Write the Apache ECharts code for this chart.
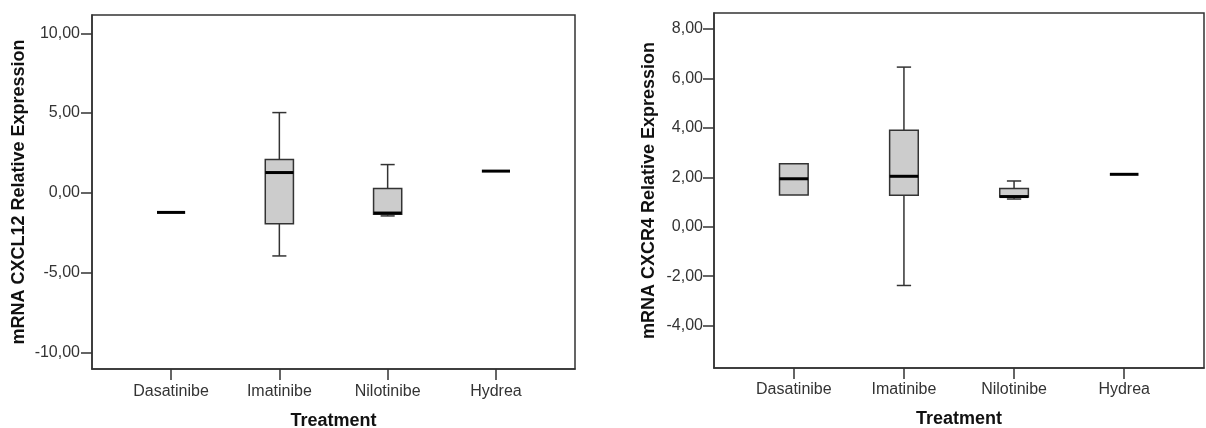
<!DOCTYPE html>
<html>
<head>
<meta charset="utf-8">
<script src="https://cdn.jsdelivr.net/npm/echarts@6/dist/echarts.min.js"></script>
<style>
  html, body { margin: 0; padding: 0; background: #fff; }
  #chart { width: 1206px; height: 428px; }
</style>
</head>
<body>
<div id="chart"></div>
<script>
const categories = ['Dasatinibe', 'Imatinibe', 'Nilotinibe', 'Hydrea']
// each row: [min, q1, median, q3, max]
const cxcl12 = [
  [-1.23, -1.23, -1.23, -1.23, -1.23],
  [-3.96, -1.94, 1.27, 2.09, 5.03],
  [-1.45, -1.35, -1.27, 0.27, 1.77],
  [1.36, 1.36, 1.36, 1.36, 1.36],
]
const cxcr4 = [
  [1.28, 1.28, 1.94, 2.55, 2.55],
  [-2.38, 1.27, 2.04, 3.9, 6.46],
  [1.12, 1.2, 1.22, 1.55, 1.85],
  [2.12, 2.12, 2.12, 2.12, 2.12],
]
const cxcl12Ticks = [-10, -5, 0, 5, 10]
const cxcr4Ticks = [-4, -2, 0, 2, 4, 6, 8]
const catTicks = [1, 2, 3, 4]

const FONT = 'Liberation Sans, Arial, sans-serif'
const LINE = '#333'
const BOX_W = 0.26

const renderBox = (params, api) => {
  const x = api.value(0)
  const lo = api.coord([x, api.value(1)])
  const q1 = api.coord([x, api.value(2)])
  const md = api.coord([x, api.value(3)])
  const q3 = api.coord([x, api.value(4)])
  const hi = api.coord([x, api.value(5)])
  const w = api.size([BOX_W, 0])[0]
  const cx = md[0]
  const stroke = { stroke: LINE, lineWidth: 1.5 }
  const children = []
  if (hi[1] < q3[1] - 0.5) {
    children.push({ type: 'line', shape: { x1: cx, y1: q3[1], x2: cx, y2: hi[1] }, style: stroke })
    children.push({ type: 'line', shape: { x1: cx - w / 4, y1: hi[1], x2: cx + w / 4, y2: hi[1] }, style: stroke })
  }
  if (lo[1] > q1[1] + 0.5) {
    children.push({ type: 'line', shape: { x1: cx, y1: q1[1], x2: cx, y2: lo[1] }, style: stroke })
    children.push({ type: 'line', shape: { x1: cx - w / 4, y1: lo[1], x2: cx + w / 4, y2: lo[1] }, style: stroke })
  }
  if (q1[1] - q3[1] > 0.5) {
    children.push({
      type: 'rect',
      shape: { x: cx - w / 2, y: q3[1], width: w, height: q1[1] - q3[1] },
      style: { fill: '#cccccc', stroke: LINE, lineWidth: 1.5 },
    })
  }
  children.push({
    type: 'line',
    shape: { x1: cx - w / 2, y1: md[1], x2: cx + w / 2, y2: md[1] },
    style: { stroke: '#000', lineWidth: 3 },
  })
  return { type: 'group', children: children }
}

const makeX = (idx, min, max, margin, gap) => ({
  type: 'value',
  gridIndex: idx,
  min: min,
  max: max,
  name: 'Treatment',
  nameLocation: 'middle',
  nameGap: gap,
  nameTextStyle: { fontFamily: FONT, fontSize: 18, fontWeight: 'bold', color: '#111' },
  axisLine: { show: true, onZero: false, lineStyle: { color: LINE, width: 1.5 } },
  axisTick: { show: true, length: 11, customValues: catTicks, lineStyle: { color: LINE, width: 1.5 } },
  axisLabel: {
    customValues: catTicks,
    margin: margin,
    fontFamily: FONT,
    fontSize: 16,
    color: '#333',
    formatter: (v) => categories[Math.round(v) - 1],
  },
  splitLine: { show: false },
})

const makeY = (idx, min, max, ticks, title, gap, margin) => ({
  type: 'value',
  gridIndex: idx,
  min: min,
  max: max,
  name: title,
  nameLocation: 'middle',
  nameGap: gap,
  nameTextStyle: { fontFamily: FONT, fontSize: 18, fontWeight: 'bold', color: '#111' },
  axisLine: { show: true, onZero: false, lineStyle: { color: LINE, width: 1.5 } },
  axisTick: { show: true, length: 11, customValues: ticks, lineStyle: { color: LINE, width: 1.5 } },
  axisLabel: {
    customValues: ticks,
    margin: margin,
    fontFamily: FONT,
    fontSize: 16,
    color: '#333',
    formatter: (v) => v.toFixed(2).replace('.', ','),
  },
  splitLine: { show: false },
})

const toData = (rows) => rows.map((r, i) => [i + 1].concat(r))

const chart = echarts.init(document.getElementById('chart'))
const option = {
  backgroundColor: '#fff',
  animation: false,
  grid: [
    {
      left: 92, top: 15, width: 483, height: 354,
      outerBoundsMode: 'none', containLabel: false,
      show: true, borderColor: LINE, borderWidth: 1.5,
    },
    {
      left: 714, top: 13, width: 490, height: 355,
      outerBoundsMode: 'none', containLabel: false,
      show: true, borderColor: LINE, borderWidth: 1.5,
    },
  ],
  xAxis: [makeX(0, 0.27, 4.73, 15, 43), makeX(1, 0.275, 4.725, 14, 42)],
  yAxis: [
    makeY(0, -11.05, 11.15, cxcl12Ticks, 'mRNA CXCL12 Relative Expression', 64, 12),
    makeY(1, -5.72, 8.65, cxcr4Ticks, 'mRNA CXCR4 Relative Expression', 56, 11),
  ],
  series: [
    {
      type: 'custom',
      xAxisIndex: 0,
      yAxisIndex: 0,
      renderItem: renderBox,
      encode: { x: 0, y: [1, 2, 3, 4, 5] },
      data: toData(cxcl12),
    },
    {
      type: 'custom',
      xAxisIndex: 1,
      yAxisIndex: 1,
      renderItem: renderBox,
      encode: { x: 0, y: [1, 2, 3, 4, 5] },
      data: toData(cxcr4),
    },
  ],
}
chart.setOption(option)
</script>
</body>
</html>
